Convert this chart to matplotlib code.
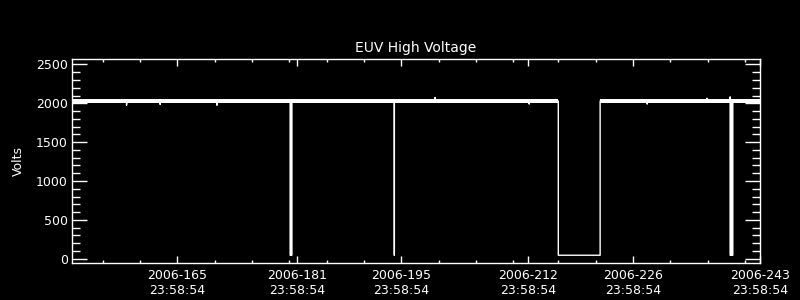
import matplotlib
matplotlib.use("Agg")
import matplotlib.pyplot as plt
import numpy as np

# day of year 2006 vs EUV high voltage (volts)
day = [150.9, 158.2, 158.2, 158.25, 162.7, 162.7, 162.75, 170.3, 170.3, 170.35,
       180.1, 180.1, 180.2, 180.2, 180.3, 180.3, 180.3,
       194.05, 194.05, 194.05, 199.5, 199.5, 199.55,
       212.1, 212.1, 212.15, 216.0, 216.0, 221.6, 221.6, 227.9, 227.9, 227.95,
       235.9, 235.9, 235.95,
       239.0, 239.0, 239.0, 239.12, 239.12, 239.24, 239.24, 239.36, 239.36, 243.0]
volts = [2030, 2030, 1975, 2030, 2030, 1985, 2030, 2030, 1975, 2030,
         2030, 45, 45, 2030, 2030, 45, 2030,
         2030, 45, 2030, 2030, 2075, 2030,
         2030, 1990, 2030, 2030, 45, 45, 2030, 2030, 1990, 2030,
         2030, 2065, 2030,
         2030, 2080, 45, 45, 2030, 2030, 45, 45, 2030, 2030]

# spread of the noisy trace while the instrument is on
on_start = [150.9, 221.6]
on_end = [216.0, 243.0]
band_lo = 2005
band_hi = 2052

major_days = [165, 181, 195, 212, 226, 243]
major_labels = ["2006-165\n23:58:54", "2006-181\n23:58:54", "2006-195\n23:58:54",
                "2006-212\n23:58:54", "2006-226\n23:58:54", "2006-243\n23:58:54"]
minor_days = [155, 160, 170, 175, 180, 185, 190, 200, 205, 210, 216, 221, 231, 236, 241]

fig = plt.figure(figsize=(8, 3), dpi=100, facecolor="black")
ax = fig.add_axes([0.09, 0.1233, 0.86, 0.68], facecolor="black")

for s, e in zip(on_start, on_end):
    ax.fill_between([s, e], [band_lo, band_lo], [band_hi, band_hi], color="white", linewidth=0)
ax.plot(day, volts, color="white", linewidth=1.0)

ax.set_xlim(150.9, 243.0)
ax.set_ylim(-55, 2570)

ax.set_xticks(major_days)
ax.set_xticklabels(major_labels)
ax.set_xticks(minor_days, minor=True)
ax.set_yticks(np.arange(0, 2501, 500))
ax.set_yticks(np.arange(0, 2571, 100), minor=True)

ax.tick_params(axis="both", which="both", direction="in", colors="white",
               labelsize=9, top=True, right=True, width=1.0)
ax.tick_params(axis="x", which="major", length=5, pad=4)
ax.tick_params(axis="x", which="minor", length=2.5)
ax.tick_params(axis="y", which="major", length=10.5, pad=3)
ax.tick_params(axis="y", which="minor", length=5.8)

for sp in ax.spines.values():
    sp.set_color("white")
    sp.set_linewidth(1.0)

ax.set_ylabel("Volts", color="white", fontsize=9, labelpad=8)
ax.set_title("EUV High Voltage", color="white", fontsize=10, pad=5)

fig.savefig("out.png", dpi=100, facecolor="black")
